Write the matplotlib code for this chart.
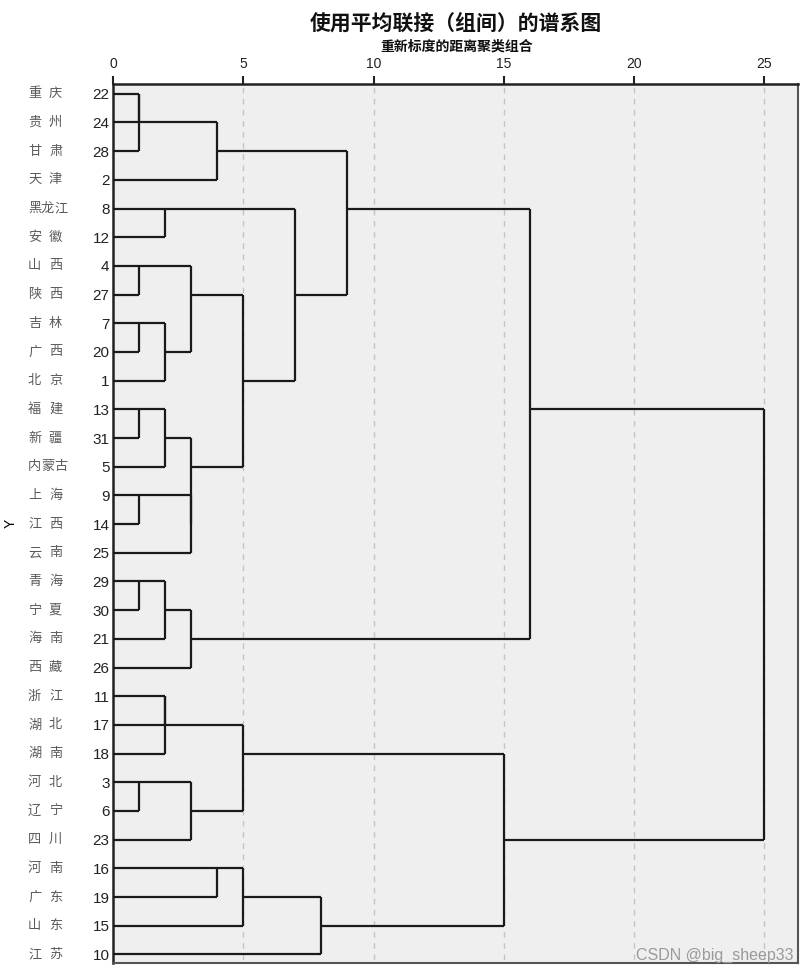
import math
import matplotlib
matplotlib.use('Agg')
import matplotlib.pyplot as plt
import matplotlib.transforms as mtransforms

plt.rcParams['font.family'] = ['Noto Sans CJK SC', 'DejaVu Sans']

# leaves, top to bottom
names = ['重庆', '贵州', '甘肃', '天津', '黑龙江', '安徽', '山西', '陕西', '吉林', '广西',
         '北京', '福建', '新疆', '内蒙古', '上海', '江西', '云南', '青海', '宁夏', '海南',
         '西藏', '浙江', '湖北', '湖南', '河北', '辽宁', '四川', '河南', '广东', '山东', '江苏']
case_ids = [22, 24, 28, 2, 8, 12, 4, 27, 7, 20, 1, 13, 31, 5, 9, 14, 25, 29, 30, 21,
            26, 11, 17, 18, 3, 6, 23, 16, 19, 15, 10]

# merges: (child a, child b, rescaled distance); index >= 31 means an earlier merge
merges = [
    (0, 1, 1), (31, 2, 1), (32, 3, 4), (4, 5, 2), (6, 7, 1), (8, 9, 1), (36, 10, 2),
    (35, 37, 3), (11, 12, 1), (39, 13, 2), (14, 15, 1), (41, 16, 3), (40, 42, 3),
    (38, 43, 5), (34, 44, 7), (33, 45, 9), (17, 18, 1), (47, 19, 2), (48, 20, 3),
    (46, 49, 16), (21, 22, 2), (51, 23, 2), (24, 25, 1), (53, 26, 3), (52, 54, 5),
    (27, 28, 4), (56, 29, 5), (57, 30, 8), (55, 58, 15), (50, 59, 25),
]

W, H = 809, 975
fig = plt.figure(figsize=(W / 100, H / 100), dpi=100)
ax = fig.add_axes([113 / W, 1 - 963 / H, (798 - 113) / W, (963 - 84) / H])
ax.set_facecolor('#efefef')

n = len(names)
row = {i: i + 1 for i in range(n)}
height = {i: 0 for i in range(n)}
line_kw = dict(color='#1a1a1a', lw=1.6, zorder=3)
for k, (a, b, d) in enumerate(merges):
    ya, yb = row[a], row[b]
    ax.hlines(ya, height[a], d, **line_kw)
    ax.hlines(yb, height[b], d, **line_kw)
    ax.vlines(d, ya, yb, **line_kw)
    row[n + k] = math.floor((ya + yb) / 2)
    height[n + k] = d

# dashed guides
ax.vlines([5, 10, 15, 20, 25], 0, 32, colors='#c4c4c4', lw=1.0,
          linestyles=(0, (4, 4)), zorder=1)

ax.set_xlim(0, 26.29)
ax.set_ylim(31.30, 0.66)

ax.xaxis.tick_top()
ax.set_xticks([0, 5, 10, 15, 20, 25])
ax.set_xticklabels(['0', '5', '10', '15', '20', '25'], family='Liberation Sans', fontsize=10)
ax.tick_params(axis='x', length=6, width=1.5, pad=3, colors='#222222')

ax.set_yticks(range(1, n + 1))
ax.set_yticklabels([str(c) for c in case_ids], family='Liberation Sans', fontsize=11)
ax.tick_params(axis='y', length=0, pad=2.5, colors='#222222')

for s in ['top', 'left']:
    ax.spines[s].set_linewidth(1.8)
    ax.spines[s].set_color('#222222')
for s in ['right', 'bottom']:
    ax.spines[s].set_linewidth(1.5)
    ax.spines[s].set_color('#555555')

ax.set_ylabel('Y', family='Liberation Sans', fontsize=10, rotation=90)
ax.yaxis.set_label_coords((18 - 113) / (798 - 113), 0.5)

# province names at the far left
trans = mtransforms.blended_transform_factory(fig.transFigure, ax.transData)
for i, name in enumerate(names):
    step = 21 if len(name) == 2 else 13
    for j, ch in enumerate(name):
        ax.text((28 + j * step) / W, i + 1, ch, transform=trans, fontsize=9.5,
                color='#5a5a5a', ha='left', va='center')

fig.text(455.5 / W, 1 - 23 / H, '使用平均联接（组间）的谱系图', ha='center', va='center',
         fontsize=15, weight='bold', color='#111111')
fig.text(457 / W, 1 - 47 / H, '重新标度的距离聚类组合', ha='center', va='center',
         fontsize=10, weight='bold', color='#111111')

fig.text(793 / W, 1 - 955 / H, 'CSDN @big_sheep33', ha='right', va='center',
         fontsize=11.5, color='#9a9a9a', family='Liberation Sans')

fig.savefig('out.png', dpi=100)
